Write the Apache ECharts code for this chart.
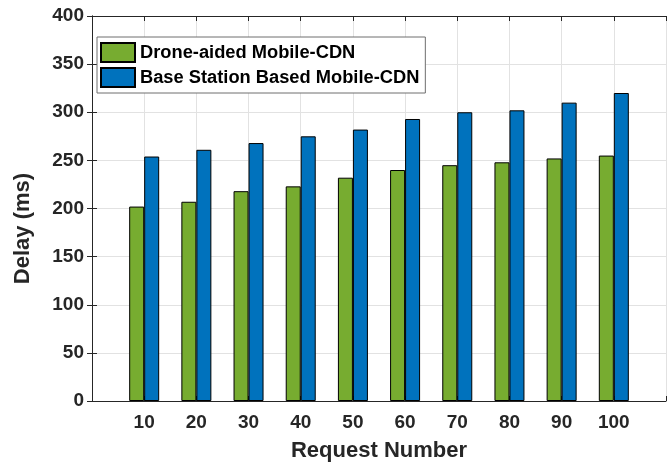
<!DOCTYPE html>
<html>
<head>
<meta charset="utf-8">
<script src="https://cdn.jsdelivr.net/npm/echarts@6/dist/echarts.min.js"></script>
<style>
  html, body { margin: 0; padding: 0; background: #fff; }
  #chart { width: 672px; height: 463px; }
</style>
</head>
<body>
<div id="chart"></div>
<script>
// Request counts on the x axis
const requestNumbers = [10, 20, 30, 40, 50, 60, 70, 80, 90, 100];
// Average delay in ms for each scheme
const droneAided = [202, 207, 218, 223, 232, 240, 245, 248, 252, 255];
const baseStation = [254, 261, 268, 275, 282, 293, 300, 302, 310, 320];
const seriesNames = ['Drone-aided Mobile-CDN', 'Base Station Based Mobile-CDN'];
const yTicks = [0, 50, 100, 150, 200, 250, 300, 350, 400];

const FONT = '"Liberation Sans", Arial, Helvetica, sans-serif';
const INK = '#262626';
const GRIDC = '#e2e2e2';

const pairs = vals => requestNumbers.map((x, i) => [x, vals[i]]);

const chart = echarts.init(document.getElementById('chart'), null, { renderer: 'canvas' });

const baseX = {
  type: 'value', min: 0, max: 110, interval: 10,
  axisLine: { show: true, onZero: false, lineStyle: { color: INK, width: 1 } },
  axisTick: { show: true, inside: true, length: 5, lineStyle: { color: INK } },
  splitLine: { show: false }
};
const baseY = {
  type: 'value', min: yTicks[0], max: yTicks[yTicks.length - 1], interval: 50,
  axisLine: { show: true, lineStyle: { color: INK, width: 1 } },
  axisTick: { show: true, inside: true, length: 5, lineStyle: { color: INK } },
  splitLine: { show: false }
};

chart.setOption({
  backgroundColor: '#fff',
  animation: false,
  grid: { left: 92, right: 6, top: 16, bottom: 62, containLabel: false, outerBoundsMode: 'none' },
  legend: {
    orient: 'vertical',
    left: 97, top: 37,
    data: seriesNames,
    itemWidth: 34, itemHeight: 19, itemGap: 4,
    padding: [5, 6, 5, 3],
    borderColor: '#6e6e6e', borderWidth: 1,
    backgroundColor: '#fff',
    textStyle: { fontFamily: FONT, fontWeight: 'bold', fontSize: 18.3, color: '#000' },
    icon: 'rect'
  },
  xAxis: [
    Object.assign({}, baseX, {
      position: 'bottom',
      name: 'Request Number', nameLocation: 'middle', nameGap: 39,
      nameTextStyle: { fontFamily: FONT, fontWeight: 'bold', fontSize: 22, color: INK },
      splitLine: { show: true, lineStyle: { color: GRIDC, width: 1 } },
      axisLabel: {
        margin: 12, fontFamily: FONT, fontWeight: 'bold', fontSize: 19, color: INK,
        formatter: v => (requestNumbers.indexOf(v) >= 0 ? String(v) : '')
      }
    }),
    Object.assign({}, baseX, { position: 'top', axisLabel: { show: false } })
  ],
  yAxis: [
    Object.assign({}, baseY, {
      position: 'left',
      name: 'Delay (ms)', nameLocation: 'middle', nameGap: 58,
      nameTextStyle: {
        fontFamily: FONT, fontWeight: 'bold', fontSize: 22, color: INK,
        padding: [0, 40, 0, 0]
      },
      splitLine: { show: true, lineStyle: { color: GRIDC, width: 1 } },
      axisLabel: { margin: 8, fontFamily: FONT, fontWeight: 'bold', fontSize: 19, color: INK }
    }),
    Object.assign({}, baseY, { position: 'right', axisLabel: { show: false } })
  ],
  series: [
    {
      name: seriesNames[0], type: 'bar', xAxisIndex: 0, yAxisIndex: 0,
      data: pairs(droneAided), barWidth: 15, barGap: '0%',
      itemStyle: { color: '#77AC30', borderColor: '#000', borderWidth: 1 }
    },
    {
      name: seriesNames[1], type: 'bar', xAxisIndex: 0, yAxisIndex: 0,
      data: pairs(baseStation), barWidth: 15, barGap: '0%',
      itemStyle: { color: '#0072BD', borderColor: '#000', borderWidth: 1 }
    }
  ]
});
</script>
</body>
</html>
